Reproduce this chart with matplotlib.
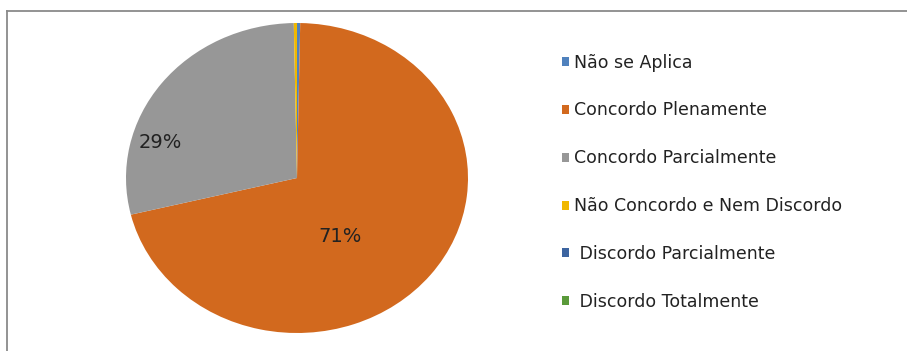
import matplotlib
matplotlib.use("Agg")
import matplotlib.pyplot as plt
from matplotlib.lines import Line2D

categories = ["Não se Aplica", "Concordo Plenamente", "Concordo Parcialmente",
              "Não Concordo e Nem Discordo", " Discordo Parcialmente", " Discordo Totalmente"]
values = [0.3, 70.9, 28.5, 0.3, 0.0, 0.0]
colors = ["#4F81BD", "#D2691E", "#979797", "#F0B800", "#3C64A0", "#5A9A3A"]
pct_labels = ["", "71%", "29%", "", "", ""]

W, H = 907, 351
fig = plt.figure(figsize=(W / 100, H / 100), dpi=100)
fig.patch.set_facecolor("white")

# pie axes (slightly elliptical like reference)
ax = fig.add_axes([126 / W, 1 - 333 / H, 342 / W, 310 / H])
wedges, _ = ax.pie(values, colors=colors, startangle=90, counterclock=False,
                   wedgeprops=dict(linewidth=0))
ax.set_aspect("auto")
ax.set_xlim(-1, 1)
ax.set_ylim(-1, 1)
ax.axis("off")

# percentage labels
label_pos = {1: (0.25, -0.38), 2: (-0.80, 0.23)}
for i, (x, y) in label_pos.items():
    ax.text(x, y, pct_labels[i], ha="center", va="center", fontsize=14,
            color="#222222", family="DejaVu Sans")

leg = fig.legend(wedges, categories, loc="upper left",
                 bbox_to_anchor=(546 / W, 1 - 38 / H), frameon=False,
                 handlelength=0.42, handleheight=0.42, handletextpad=0.3,
                 labelspacing=1.72, prop=dict(family="DejaVu Sans", size=12.5))
for t in leg.get_texts():
    t.set_color("#222222")

# chart frame (top and left edges visible)
fig.add_artist(Line2D([7 / W, 7 / W], [0, 1 - 11 / H], color="#8a8a8a", lw=1.3,
                      transform=fig.transFigure))
fig.add_artist(Line2D([7 / W, 1], [1 - 11 / H, 1 - 11 / H], color="#8a8a8a", lw=1.3,
                      transform=fig.transFigure))

fig.savefig("out.png", dpi=100, facecolor="white")
